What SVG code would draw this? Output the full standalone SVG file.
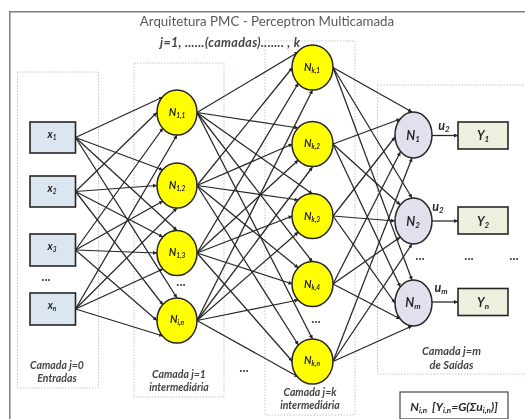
<svg xmlns="http://www.w3.org/2000/svg" width="525" height="419" viewBox="0 0 525 419">
<style>
text{font-family:"Lato","Open Sans","Liberation Sans",sans-serif;fill:#262626;text-anchor:middle}
.lbl{font-weight:700;font-style:italic;font-size:10.5px}
.big{font-weight:700;font-style:italic;font-size:12.5px}
.cap{font-weight:700;font-style:italic;font-size:10.5px;fill:#444}
.sub{font-size:6.5px}
.big .sub{font-size:8px}
.in{fill:#dce6f1;stroke:#262626;stroke-width:1.6}
.out{fill:#ebf1de;stroke:#262626;stroke-width:1.6}
.hid{fill:#ffff00;stroke:#262626;stroke-width:1.5}
.res{fill:#e4dfec;stroke:#262626;stroke-width:1.5}
.zone{fill:none;stroke:#b8c7d9;stroke-width:1;stroke-dasharray:1.5 1.5}
.dots{font-weight:700;font-size:13px;fill:#444}
#connectors line{stroke:#262626;stroke-width:1.25;marker-end:url(#arr)}
</style>
<defs>
<marker id="arr" markerUnits="userSpaceOnUse" markerWidth="5" markerHeight="5" refX="4" refY="2" orient="auto"><path d="M0 0L4 2L0 4z" fill="#262626"/></marker>
<filter id="soft" x="0" y="0" width="100%" height="100%"><feGaussianBlur stdDeviation="0.35"/></filter>
</defs>
<rect width="525" height="419" fill="#fff"/>
<g filter="url(#soft)">
<path d="M9.5 419V11.500H525" fill="none" stroke="#7f7f7f" stroke-width="2"/>
<text x="267" y="26" style="font-size:13.3px;fill:#595959">Arquitetura PMC - Perceptron Multicamada</text>
<g id="zones">
<rect class="zone" x="17.500" y="72" width="81" height="316"/>
<rect class="zone" x="134" y="63" width="90" height="334"/>
<rect class="zone" x="265" y="41" width="90" height="374"/>
<rect class="zone" x="377.500" y="85" width="150" height="289"/>
</g>
<text x="160" y="47" class="cap" style="text-anchor:start;font-size:12.500px;letter-spacing:.35px">j=1, ......(camadas)....... , k</text>
<g id="connectors">
<line x1="75.500" y1="137.500" x2="163" y2="97"/>
<line x1="75.500" y1="191.500" x2="157" y2="112.500"/>
<line x1="75.500" y1="250" x2="163" y2="128"/>
<line x1="75.500" y1="309" x2="177" y2="135"/>
<line x1="75.500" y1="137.500" x2="163" y2="170"/>
<line x1="75.500" y1="191.500" x2="157" y2="185.500"/>
<line x1="75.500" y1="250" x2="163" y2="201"/>
<line x1="75.500" y1="309" x2="177" y2="208"/>
<line x1="75.500" y1="137.500" x2="177" y2="230.500"/>
<line x1="75.500" y1="191.500" x2="163" y2="237"/>
<line x1="75.500" y1="250" x2="157" y2="253"/>
<line x1="75.500" y1="309" x2="163" y2="269"/>
<line x1="75.500" y1="137.500" x2="177" y2="298"/>
<line x1="75.500" y1="191.500" x2="163" y2="305"/>
<line x1="75.500" y1="250" x2="157" y2="320.500"/>
<line x1="75.500" y1="309" x2="163" y2="336"/>
<line x1="197" y1="112.500" x2="298.400" y2="52"/>
<line x1="197" y1="185.500" x2="292.500" y2="67.500"/>
<line x1="197" y1="253" x2="298.400" y2="83"/>
<line x1="197" y1="320.500" x2="312.500" y2="90"/>
<line x1="197" y1="112.500" x2="298.400" y2="128"/>
<line x1="197" y1="185.500" x2="292.500" y2="144"/>
<line x1="197" y1="253" x2="298.400" y2="160"/>
<line x1="197" y1="320.500" x2="312.500" y2="167"/>
<line x1="197" y1="112.500" x2="312.500" y2="194"/>
<line x1="197" y1="185.500" x2="298.400" y2="200"/>
<line x1="197" y1="253" x2="292.500" y2="216"/>
<line x1="197" y1="320.500" x2="298.400" y2="232"/>
<line x1="197" y1="112.500" x2="312.500" y2="262"/>
<line x1="197" y1="185.500" x2="298.400" y2="268"/>
<line x1="197" y1="253" x2="292.500" y2="284"/>
<line x1="197" y1="320.500" x2="298.400" y2="300"/>
<line x1="197" y1="112.500" x2="312.500" y2="339"/>
<line x1="197" y1="185.500" x2="298.400" y2="345"/>
<line x1="197" y1="253" x2="292.500" y2="361.500"/>
<line x1="197" y1="320.500" x2="298.400" y2="377"/>
<line x1="333" y1="67.500" x2="412" y2="112"/>
<line x1="333" y1="144" x2="400.400" y2="119"/>
<line x1="333" y1="216" x2="395" y2="137"/>
<line x1="333" y1="284" x2="400.400" y2="152"/>
<line x1="333" y1="361.500" x2="412" y2="158"/>
<line x1="333" y1="67.500" x2="412" y2="198"/>
<line x1="333" y1="144" x2="400.400" y2="205"/>
<line x1="333" y1="216" x2="395" y2="221"/>
<line x1="333" y1="284" x2="400.400" y2="237"/>
<line x1="333" y1="361.500" x2="412" y2="244"/>
<line x1="333" y1="67.500" x2="412" y2="280"/>
<line x1="333" y1="144" x2="400.400" y2="287"/>
<line x1="333" y1="216" x2="395" y2="303"/>
<line x1="333" y1="284" x2="400.400" y2="319"/>
<line x1="333" y1="361.500" x2="412" y2="326"/>
<line x1="432" y1="135.500" x2="458" y2="135.500"/>
<line x1="432" y1="221" x2="458" y2="221"/>
<line x1="432" y1="302" x2="458" y2="302"/>
</g>
<g id="x1"><rect class="in" x="30" y="122" width="45.500" height="31"/><text class="lbl" x="52" y="138">x<tspan class="sub" dy="2">1</tspan></text></g>
<g id="x2"><rect class="in" x="30" y="176" width="45.500" height="31"/><text class="lbl" x="52" y="192">x<tspan class="sub" dy="2">2</tspan></text></g>
<g id="x3"><rect class="in" x="30" y="234" width="45.500" height="32"/><text class="lbl" x="52" y="250">x<tspan class="sub" dy="2">3</tspan></text></g>
<g id="xn"><rect class="in" x="30" y="293" width="45.500" height="32"/><text class="lbl" x="52" y="309">x<tspan class="sub" dy="2">n</tspan></text></g>
<g id="n11"><ellipse class="hid" cx="177" cy="112.500" rx="20" ry="22.500"/><text class="lbl" x="177" y="116">N<tspan class="sub" dy="2">1,1</tspan></text></g>
<g id="n12"><ellipse class="hid" cx="177" cy="185.500" rx="20" ry="22.500"/><text class="lbl" x="177" y="189">N<tspan class="sub" dy="2">1,2</tspan></text></g>
<g id="n13"><ellipse class="hid" cx="177" cy="253" rx="20" ry="22.500"/><text class="lbl" x="177" y="256">N<tspan class="sub" dy="2">1,3</tspan></text></g>
<g id="n1n"><ellipse class="hid" cx="177" cy="320.500" rx="20" ry="22.500"/><text class="lbl" x="177" y="323">N<tspan class="sub" dy="2">i,n</tspan></text></g>
<g id="nk1"><ellipse class="hid" cx="312.500" cy="67.500" rx="20.500" ry="22.500"/><text class="lbl" x="312" y="71">N<tspan class="sub" dy="2">k,1</tspan></text></g>
<g id="nk2"><ellipse class="hid" cx="312.500" cy="144" rx="20.500" ry="22.500"/><text class="lbl" x="312" y="147">N<tspan class="sub" dy="2">k,2</tspan></text></g>
<g id="nk3"><ellipse class="hid" cx="312.500" cy="216" rx="20.500" ry="22.500"/><text class="lbl" x="312" y="220">N<tspan class="sub" dy="2">k,3</tspan></text></g>
<g id="nk4"><ellipse class="hid" cx="312.500" cy="284" rx="20.500" ry="22.500"/><text class="lbl" x="312" y="288">N<tspan class="sub" dy="2">k,4</tspan></text></g>
<g id="nkn"><ellipse class="hid" cx="312.500" cy="361.500" rx="20.500" ry="22.500"/><text class="lbl" x="312" y="364">N<tspan class="sub" dy="2">k,n</tspan></text></g>
<g id="n1"><ellipse class="res" cx="413.500" cy="135" rx="18.500" ry="23"/><text class="big" x="413" y="140">N<tspan class="sub" dy="2">1</tspan></text></g>
<g id="n2"><ellipse class="res" cx="413.500" cy="221" rx="18.500" ry="23"/><text class="big" x="413" y="226">N<tspan class="sub" dy="2">2</tspan></text></g>
<g id="nm"><ellipse class="res" cx="413.500" cy="303" rx="18.500" ry="23"/><text class="big" x="413" y="307">N<tspan class="sub" dy="2">m</tspan></text></g>
<g id="y1"><rect class="out" x="458" y="122" width="50" height="27"/><text class="big" x="483" y="140">Y<tspan class="sub" dy="2">1</tspan></text></g>
<g id="y2"><rect class="out" x="458" y="207" width="50" height="27"/><text class="big" x="483" y="226">Y<tspan class="sub" dy="2">2</tspan></text></g>
<g id="yn"><rect class="out" x="458" y="288.500" width="50" height="27"/><text class="big" x="483" y="307">Y<tspan class="sub" dy="2">n</tspan></text></g>
<text class="big" x="444" y="130">u<tspan class="sub" dy="2">2</tspan></text>
<text class="big" x="438" y="211">u<tspan class="sub" dy="2">2</tspan></text>
<text class="big" x="441" y="292">u<tspan class="sub" dy="2">m</tspan></text>
<text class="dots" x="46" y="281">...</text>
<text class="dots" x="181" y="286">...</text>
<text class="dots" x="244" y="372">...</text>
<text class="dots" x="316" y="323">...</text>
<text class="dots" x="420" y="260">...</text>
<text class="dots" x="469" y="260">...</text>
<text class="dots" x="514" y="260">...</text>
<text class="cap" x="57" y="369">Camada j=0</text>
<text class="cap" x="57" y="382">Entradas</text>
<text class="cap" x="179" y="378">Camada j=1</text>
<text class="cap" x="179" y="391">intermediária</text>
<text class="cap" x="310" y="396">Camada j=k</text>
<text class="cap" x="310" y="409">intermediária</text>
<text class="cap" x="451.500" y="355" style="font-size:11px">Camada j=m</text>
<text class="cap" x="451.500" y="369" style="font-size:11px">de Saídas</text>
<g id="legend"><rect x="400" y="392" width="108" height="27" fill="#fff" stroke="#444" stroke-width="1.2"/><text class="big" x="454" y="411" style="font-size:12px">N<tspan class="sub" dy="2">i,n</tspan><tspan dx="5" dy="-2">[Y</tspan><tspan class="sub" dy="2">i,n</tspan><tspan dy="-2">=G(Σu</tspan><tspan class="sub" dy="2">i,n</tspan><tspan dy="-2">)]</tspan></text></g>
</g>
</svg>
